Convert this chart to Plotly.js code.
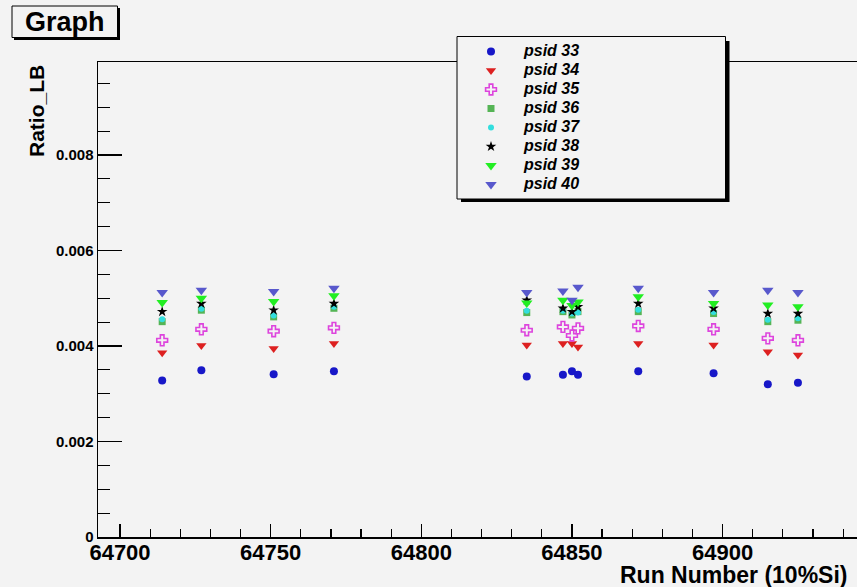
<!DOCTYPE html>
<html><head><meta charset="utf-8">
<script src="https://cdn.plot.ly/plotly-3.0.1.min.js"></script>
<style>html,body{margin:0;padding:0;background:#f3f3f3;} #chart{width:857px;height:587px;}</style>
</head><body><div id="chart"></div>
<script>
// ---- data ----
const runs   = [64714, 64727, 64751, 64771, 64835, 64847, 64850, 64852, 64872, 64897, 64915, 64925];
const psid33 = [0.00328, 0.00349, 0.00341, 0.00347, 0.00336, 0.00340, 0.00347, 0.00340, 0.00347, 0.00343, 0.00320, 0.00323];
const psid34 = [0.00386, 0.00401, 0.00395, 0.00405, 0.00402, 0.00405, 0.00405, 0.00398, 0.00405, 0.00402, 0.00388, 0.00381];
const psid35 = [0.00412, 0.00435, 0.00431, 0.00438, 0.00433, 0.00440, 0.00422, 0.00437, 0.00442, 0.00435, 0.00416, 0.00412];
const psid36 = [0.00451, 0.00475, 0.00461, 0.00479, 0.00470, 0.00472, 0.00465, 0.00472, 0.00472, 0.00468, 0.00451, 0.00454];
const psid37 = [0.00456, 0.00478, 0.00464, 0.00482, 0.00474, 0.00474, 0.00468, 0.00470, 0.00476, 0.00471, 0.00455, 0.00458];
const psid38 = [0.00472, 0.00489, 0.00475, 0.00489, 0.00496, 0.00479, 0.00472, 0.00482, 0.00489, 0.00479, 0.00468, 0.00468];
const psid39 = [0.00491, 0.00500, 0.00493, 0.00505, 0.00490, 0.00496, 0.00485, 0.00492, 0.00503, 0.00489, 0.00486, 0.00482];
const psid40 = [0.00512, 0.00517, 0.00514, 0.00521, 0.00512, 0.00515, 0.00496, 0.00523, 0.00521, 0.00512, 0.00517, 0.00512];
const seriesNames  = ['psid 33', 'psid 34', 'psid 35', 'psid 36', 'psid 37', 'psid 38', 'psid 39', 'psid 40'];
const seriesValues = [psid33, psid34, psid35, psid36, psid37, psid38, psid39, psid40];
const xTitle = 'Run Number (10%Si)';
const yTitle = 'Ratio_LB';
const chartTitle = 'Graph';

// ---- styles ----
const markerStyles = [
  {symbol: 'circle',        color: '#1717c8', size: 8},
  {symbol: 'triangle-down', color: '#dd2020', size: 9},
  {symbol: 'cross-open',    color: '#dd44dd', size: 9, line: {width: 1.6, color: '#dd44dd'}},
  {symbol: 'square',        color: '#55b455', size: 7},
  {symbol: 'circle',        color: '#33dede', size: 6},
  {symbol: 'star',          color: '#000000', size: 8},
  {symbol: 'triangle-down', color: '#22ee22', size: 10},
  {symbol: 'triangle-down', color: '#5858cc', size: 10}
];
const BG = '#f3f3f3';
const FONT = 'Liberation Sans, Arial, Helvetica, sans-serif';

const W = 857, H = 587, L = 98, R = 0, T = 62, B = 50;
const pw = W - L - R, ph = H - T - B;
const px = x => (x - L) / pw;
const py = y => (H - B - y) / ph;

const traces = seriesNames.map((name, i) => ({
  type: 'scatter', mode: 'markers',
  x: runs, y: seriesValues[i],
  name: '<span style="font-size:16px">' + name + '</span>',
  marker: Object.assign({}, markerStyles[i], markerStyles[i].line ? {} : {line: {width: 0}}),
  cliponaxis: false
}));

function boxShapes(legendH) {
  const s = [];
  const rect = (x0, y0, x1, y1, fill, lw) => ({type: 'rect', xref: 'paper', yref: 'paper', layer: 'above',
    x0: px(x0), x1: px(x1), y0: py(y0), y1: py(y1), fillcolor: fill, line: {color: '#000', width: lw}});
  // title box with shadow
  s.push(rect(14, 8, 120, 40, '#000', 0));
  s.push(rect(12, 6, 117.5, 37.5, BG, 1));
  // legend box with shadow
  s.push(rect(461, 41, 729.5, 37 + legendH + 3, '#000', 0));
  s.push(rect(457, 36.5, 725.5, 37 + legendH, BG, 1));
  return s;
}

const layout = {
  width: W, height: H,
  margin: {l: L, r: R, t: T, b: B, pad: 0},
  paper_bgcolor: BG, plot_bgcolor: BG,
  showlegend: true,
  font: {family: FONT, color: '#000'},
  xaxis: {
    range: [64692.7, 64944.6], showgrid: false, zeroline: false,
    showline: true, linecolor: '#000', linewidth: 1.5, mirror: true,
    ticks: 'inside', ticklen: 13, tickwidth: 1.2, tickcolor: '#000',
    tick0: 64700, dtick: 50, ticklabelstandoff: -5,
    minor: {ticks: 'inside', ticklen: 8, tickwidth: 1.2, tickcolor: '#000', dtick: 10, showgrid: false},
    tickfont: {family: FONT, size: 22, weight: 'bold', color: '#000'},
    separatethousands: false, tickformat: 'd'
  },
  yaxis: {
    range: [0, 0.009948], showgrid: false, zeroline: false,
    showline: true, linecolor: '#000', linewidth: 1.5, mirror: false,
    ticks: 'inside', ticklen: 24, tickwidth: 1.2, tickcolor: '#000',
    tick0: 0, dtick: 0.002,
    minor: {ticks: 'inside', ticklen: 12, tickwidth: 1.2, tickcolor: '#000', dtick: 0.0005, showgrid: false},
    tickfont: {family: FONT, size: 15, weight: 'bold', color: '#000'}
  },
  legend: {
    x: px(458), xanchor: 'left', y: py(37), yanchor: 'top',
    bgcolor: 'rgba(0,0,0,0)', borderwidth: 0,
    font: {family: FONT, size: 12, weight: 'bold', style: 'italic', color: '#000'},
    itemwidth: 56, tracegroupgap: 0
  },
  annotations: [
    {text: chartTitle, xref: 'paper', yref: 'paper', x: px(65), y: py(22), xanchor: 'center', yanchor: 'middle',
     showarrow: false, font: {family: FONT, size: 27, weight: 'bold', color: '#000'}},
    {text: yTitle, xref: 'paper', yref: 'paper', x: px(36), y: py(63), xanchor: 'center', yanchor: 'top',
     textangle: -90, showarrow: false, font: {family: FONT, size: 21, weight: 'bold', color: '#000'}},
    {text: xTitle, xref: 'paper', yref: 'paper', x: px(618), y: py(575), xanchor: 'left', yanchor: 'middle',
     showarrow: false, font: {family: FONT, size: 23, weight: 'bold', color: '#000'}}
  ],
  shapes: boxShapes(152)
};

const gd = document.getElementById('chart');
Plotly.newPlot(gd, traces, layout, {displayModeBar: false, staticPlot: true}).then(() => {
  try {
    const lg = gd._fullLayout.legend;
    if (lg && lg._height) {
      Plotly.relayout(gd, {shapes: boxShapes(lg._height)});
    }
  } catch (e) {}
});
</script>
</body></html>
